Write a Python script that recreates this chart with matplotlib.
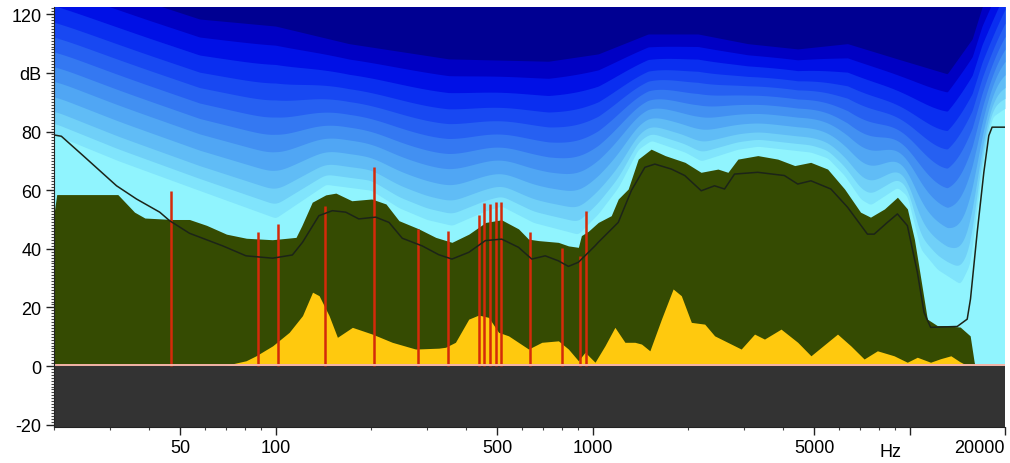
import numpy as np
import matplotlib
matplotlib.use("Agg")
import matplotlib.pyplot as plt
from matplotlib.ticker import LogLocator, NullFormatter, MultipleLocator

# dark green spectrum envelope (Hz, dB)
env_f = [20.0, 20.4, 31.8, 35.9, 38.7, 47.3, 53.5, 60.6, 70.0, 80.9, 97.7, 116, 121, 130.5,
         144, 155, 174, 201, 223, 245, 283, 320, 360, 407, 460, 516, 584, 628, 675, 780,
         839, 902, 922, 970, 1042, 1145, 1205, 1295, 1393, 1530, 1694, 1957, 2198, 2486,
         2673, 2873, 3321, 3839, 4342, 4876, 5513, 6237, 7003, 7529, 8331, 9155, 9843,
         10354, 10814, 11376, 12230, 12866, 14446, 15530, 15986, 16100]
env_db = [52, 58.5, 58.5, 52.5, 50.5, 50, 50, 48, 45, 43.6, 43.1, 43.9, 47.9, 55.9,
          58.4, 59, 56.4, 57, 55.3, 49.6, 46.8, 43.9, 42.2, 45, 49, 49.9, 46.8, 43.3, 42.8, 42.2,
          41, 40.5, 44.5, 46, 49, 51.3, 57, 60.4, 70.6, 74, 71.8, 69.5, 66.1, 67.2,
          66.1, 70.6, 71.8, 70.6, 68.4, 69.5, 67.2, 60.4, 52.5, 50.8, 53.6, 57.6, 53.6,
          43.3, 30.8, 16, 13.8, 13.8, 13.3, 10.3, 1.4, 0]

# yellow lower spectrum
low_f = [68, 80.7, 86.8, 97.9, 110.4, 121.6, 130.8, 137.2, 147.5, 156.7, 174.7, 201.9,
         233.3, 276.5, 327.2, 343.6, 369.3, 406.7, 437.1, 470, 505.2, 543.3, 628, 691.6,
         780.3, 838.9, 902, 946.7, 1018, 1094, 1176, 1265, 1360, 1427, 1516, 1649, 1795,
         1905, 2049, 2258, 2427, 2943, 3243, 3486, 3931, 4437, 4885, 5925, 6524, 7189,
         7915, 8933, 9836, 10576, 11645, 12518, 13500, 14400, 15300]
low_db = [0, 1.8, 3.5, 6.9, 11.5, 17.2, 25.2, 24, 17.2, 9.8, 13.2, 10.9,
          8.1, 5.8, 6.1, 6.4, 8.1, 16, 17.4, 16.6, 11.5, 10.3, 5.8, 8.1,
          8.6, 5.8, 1.8, 4.7, 1.3, 6.9, 13.2, 8.1, 8.1, 7.5, 5.2, 16, 26.3,
          24, 14.9, 14.3, 10.3, 5.8, 10.9, 9.2, 12.6, 8.1, 3.5, 10.9, 6.9, 2.4,
          5.2, 3.5, 1.3, 3, 1.3, 2.5, 3.5, 1.5, 0]

# black threshold curve
thr_f = [20, 20.1, 21.1, 24.7, 31.5, 36.4, 43.1, 46.3, 53.5, 68.1, 80.7, 97.9, 113, 121.6,
         137, 151, 166.5, 183, 207, 228, 251, 290, 327, 360, 407, 459, 517, 584, 643,
         709, 780, 839, 902, 1018, 1042, 1205, 1327, 1462, 1572, 1773, 1953, 2202, 2425,
         2608, 2804, 3319, 4027, 4437, 4885, 5646, 6371, 7364, 7733, 8511, 9155, 9843,
         10581, 11107, 11652, 14134, 15199, 15567, 16342, 17150, 17780, 18210, 20000]
thr_db = [78.8, 78.8, 78.4, 71.8, 61.5, 57, 52.5, 49.6, 45.3, 41, 37.6, 36.8, 37.9, 42.2,
          51.3, 53, 52.5, 50.2, 50.8, 49, 43.6, 41, 38, 36.5, 38.8, 42.8, 43.3, 40.5, 36.5,
          37.6, 35.9, 34, 35.4, 41, 42.2, 49, 60, 67.8, 68.9, 67.2, 65, 59.8, 61.5,
          60.4, 65.5, 66.1, 65, 62.1, 63.2, 60.4, 54.2, 45, 45, 49, 51.9, 47.9,
          32, 18.3, 13.2, 13.5, 16, 22.9, 45.6, 66.1, 78.6, 81.5, 81.5]

# red partial lines
peak_f = [46.7, 87.8, 101.5, 143, 204.8, 282, 350, 437.1, 455.5, 475.7, 496.8, 515.2,
          633.9, 799, 910.5, 950.8]
peak_db = [59.8, 45.6, 48.5, 54.7, 67.8, 46.6, 46.2, 51.5, 55.6, 55.3, 56.1, 56.1,
           45.6, 40.3, 37.6, 53.0]

# lower edge of the blue contour bands
band_f = [20, 32, 54, 100, 144, 200, 245, 300, 360, 460, 516, 650, 900, 1042, 1205,
          1393, 1530, 1957, 2198, 2873, 3321, 4876, 5513, 6237, 7003, 7529, 9155, 9843,
          10814, 12230, 14446, 15530, 16342, 17150, 18210, 20000]
band_db = [79, 70, 61, 50.5, 62, 60, 54, 50, 48, 53, 54.6, 49, 45, 52, 61,
           74, 77, 73, 70, 74, 75, 73, 71, 65, 57, 55, 61, 58,
           40, 33, 28, 35, 55, 72, 85, 88]
# upper edge (start of the darkest navy)
top_f = [20, 40, 57.6, 100, 170.5, 351.8, 725.8, 1042, 1497, 2150, 3089, 4436, 6371,
         9152, 13147, 15752, 16937, 20000]
top_db = [135, 124, 118.4, 116, 110, 104.8, 104, 106.5, 113.3, 113.3, 110, 108.2, 110,
          104.8, 99.7, 111.6, 122.5, 140]
band_frac = [0, 0.07, 0.145, 0.235, 0.33, 0.42, 0.51, 0.6, 0.69, 0.79, 0.895, 1.0]
band_colors = ['#90f4fe', '#80e4fc', '#70d0f8', '#60bcf6', '#50a6f4', '#4290f2', '#3478f2',
               '#2660f2', '#1848f2', '#0a2ef0', '#0010e6', '#0000c4', '#000092']

plt.rcParams['font.family'] = ['Liberation Sans', 'DejaVu Sans']

fig = plt.figure(figsize=(10.1, 4.64), dpi=100)
ax = fig.add_axes([54 / 1010, 36 / 464, 951 / 1010, 420 / 464])
ax.set_xscale('log')
ax.set_xlim(20, 20000)
ax.set_ylim(-20.8, 122.5)
ax.set_facecolor(band_colors[0])

# blue bands between lower and upper edge, smoothed more for higher bands
lg = np.linspace(np.log10(20), np.log10(20000), 900)
base = np.interp(lg, np.log10(band_f), band_db)
top = np.interp(lg, np.log10(top_f), top_db)
pad = 200
ext = np.concatenate([np.full(pad, base[0]), base, np.full(pad, base[-1])])
for k, fr in enumerate(band_frac):
    sig = 1.5 + 2.2 * k
    t = np.arange(-int(3 * sig), int(3 * sig) + 1)
    kern = np.exp(-0.5 * (t / sig) ** 2)
    kern /= kern.sum()
    sm = np.convolve(ext, kern, mode='same')[pad:-pad]
    edge = sm + fr * (top - sm)
    ax.fill_between(10 ** lg, edge, 130, color=band_colors[k + 1], lw=0)

ax.fill_between(env_f, 0, env_db, color='#354b02', lw=0)
ax.fill_between(low_f, 0, low_db, color='#ffc90e', lw=0)
ax.vlines(peak_f, 0, peak_db, color='#d42a0a', lw=1.8)
ax.plot(thr_f, thr_db, color='#1c2418', lw=1.1)

ax.axhspan(-25, 0, color='#333333', lw=0)
ax.axhline(0.3, color='#f4b4a8', lw=1.4)

ax.set_xticks([50, 100, 500, 1000, 5000, 10000, 20000])
ax.set_xticklabels(['50', '100', '500', '1000', '5000', '', '20000'])
ax.xaxis.set_minor_locator(LogLocator(base=10, subs=range(2, 10)))
ax.xaxis.set_minor_formatter(NullFormatter())
ax.get_xticklabels()[-1].set_ha('right')
ax.set_yticks([-20, 0, 20, 40, 60, 80, 100, 120])
ax.set_yticklabels(['-20', '0', '20', '40', '60', '80', 'dB', '120'])
ax.yaxis.set_minor_locator(MultipleLocator(1))
ax.tick_params(which='major', direction='out', length=6, width=1, labelsize=13,
               color='#222222', pad=3)
ax.tick_params(which='minor', direction='out', length=2.5, width=0.8, color='#444444')
ax.text(8700, -0.058, 'Hz', transform=ax.get_xaxis_transform(), ha='center',
        va='center', fontsize=13)

for s in ['top', 'right']:
    ax.spines[s].set_visible(False)
ax.spines['left'].set_color('#222222')
ax.spines['bottom'].set_color('#222222')

fig.savefig('out.png', dpi=100)
